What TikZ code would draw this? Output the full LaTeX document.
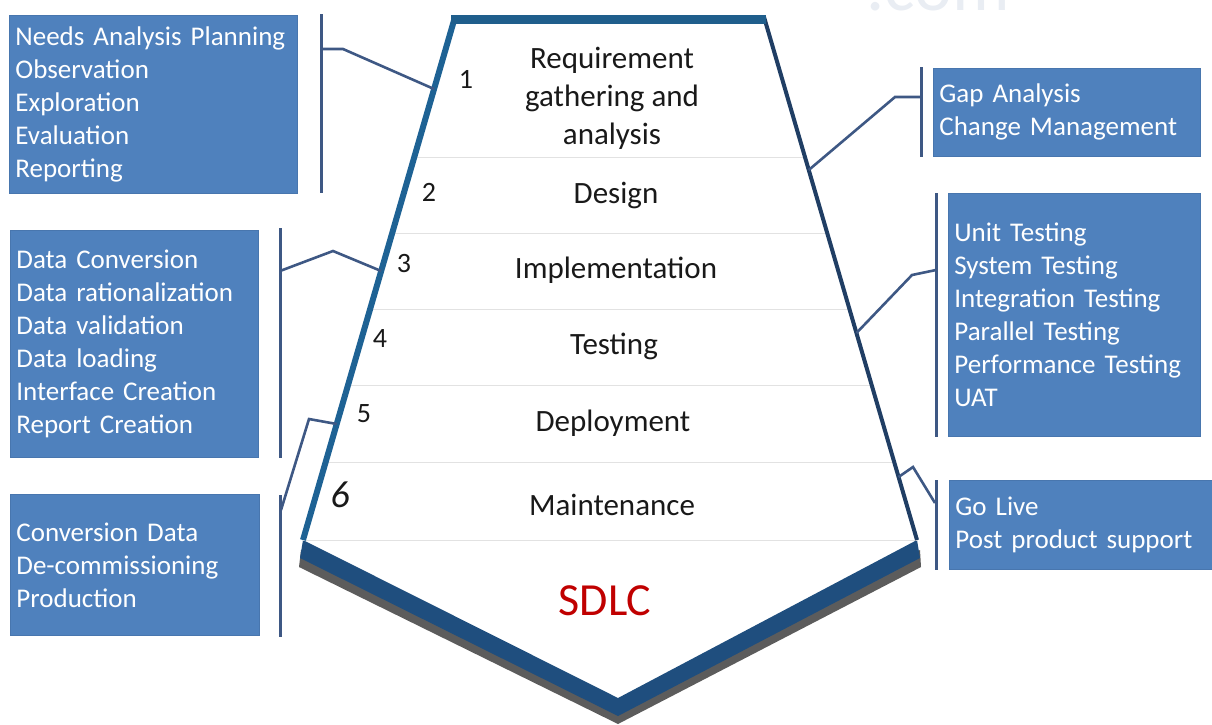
\documentclass[tikz,border=0pt]{standalone}
\usepackage{fontspec}
\setmainfont{Carlito}
\usetikzlibrary{calc}

\definecolor{boxblue}{RGB}{79,129,189}
\definecolor{boxedge}{RGB}{72,118,174}
\definecolor{linkblue}{RGB}{62,88,132}
\definecolor{frameleft}{RGB}{30,98,148}
\definecolor{frametop}{RGB}{31,94,140}
\definecolor{frameright}{RGB}{32,62,100}
\definecolor{chevronblue}{RGB}{31,78,126}
\definecolor{chevronshade}{RGB}{92,92,92}
\definecolor{rulegrey}{RGB}{226,226,226}
\definecolor{sdlcred}{RGB}{192,0,0}
\definecolor{wmgrey}{RGB}{233,237,243}

\begin{document}
\begin{tikzpicture}[x=1pt,y=-1pt,
  infobox/.style={fill=boxblue, draw=boxedge, line width=0.8pt, text=white,
    align=left, anchor=north west, inner xsep=6pt, inner ysep=0pt,
    font=\fontsize{27}{33}\selectfont},
  phase/.style={font=\fontsize{31}{38}\selectfont, text=black!90, inner sep=0pt, anchor=base},
  num/.style={font=\fontsize{28}{34}\selectfont, text=black!90, inner sep=0pt, anchor=base},
  brace/.style={draw=linkblue, line width=3pt},
  link/.style={draw=linkblue, line width=2.6pt, line join=miter},
  rowline/.style={draw=rulegrey, line width=1pt}]

\useasboundingbox (0,0) rectangle (1212,724);
\clip (0,0) rectangle (1212,724);

% faint site mark along the top edge
\node[anchor=base west, text=wmgrey, font=\fontsize{72}{72}\selectfont, inner sep=0pt] (wm) at (866,10) {.com};

% corners of the funnel
\coordinate (tl) at (455,17);
\coordinate (tr) at (764,17);
\coordinate (bl) at (303,540);
\coordinate (br) at (917,540);
\coordinate (tip) at (618,698);

% bottom chevron with its shadow
\fill[chevronshade] (301,550) -- (618,708) -- (920,550) -- (921,567) -- (618,724) -- (299,567) -- cycle;
\fill[chevronblue] (bl) -- (tip) -- (br) -- (920,558) -- (618,716) -- (300,558) -- cycle;

% row separators
\foreach \t in {0.2677,0.4130,0.5602,0.7055,0.8509,1.0}
  \draw[rowline] ($(tl)!\t!(bl)$) -- ($(tr)!\t!(br)$);

% funnel sides and top
\draw[draw=frameright, line width=4pt] (tr) -- (br);
\draw[draw=frameleft, line width=6pt] (bl) -- (tl);
\draw[draw=frametop, line width=9pt] (451,19.5) -- (766,19.5);

% phases
\node[phase, anchor=center, align=center] (req) at (612,98) {Requirement\\gathering and\\analysis};
\node[phase] (design) at (616,203) {Design};
\node[phase] (impl) at (616,278) {Implementation};
\node[phase] (test) at (614,354) {Testing};
\node[phase] (deploy) at (613,431) {Deployment};
\node[phase] (maint) at (612,515) {Maintenance};
\node[font=\fontsize{46}{50}\selectfont, text=sdlcred, anchor=base, inner sep=0pt] (sdlc) at (605,615) {SDLC};

% phase numbers
\node[num] (n1) at (466,88) {1};
\node[num] (n2) at (429,201) {2};
\node[num] (n3) at (404,272) {3};
\node[num] (n4) at (380,347) {4};
\node[num] (n5) at (364,422) {5};
\node[num, font=\fontsize{38}{40}\selectfont\itshape] (n6) at (340,507) {6};

% activity boxes
\node[infobox, minimum width=288pt, minimum height=178pt, text width=276pt] (needs) at (9,15)
  {Needs Analysis Planning\\Observation\\Exploration\\Evaluation\\Reporting};
\node[infobox, minimum width=248pt, minimum height=227pt, text width=236pt] (data) at (10,230)
  {Data Conversion\\Data rationalization\\Data validation\\Data loading\\Interface Creation\\Report Creation};
\node[infobox, minimum width=249pt, minimum height=141pt, text width=237pt] (conv) at (10,494)
  {Conversion Data\\De-commissioning\\Production};
\node[infobox, minimum width=267pt, minimum height=88pt, text width=255pt] (gap) at (933,68)
  {Gap Analysis\\Change Management};
\node[infobox, minimum width=252pt, minimum height=243pt, text width=240pt] (tests) at (948,193)
  {Unit Testing\\System Testing\\Integration Testing\\Parallel Testing\\Performance Testing\\UAT};
\node[infobox, minimum width=263pt, minimum height=89pt, text width=251pt] (golive) at (949,480)
  {Go Live\\Post product support};

% brackets beside the boxes
\coordinate (b1t) at (321,14);   \coordinate (b1b) at (321,193);
\coordinate (b2t) at (280,228);  \coordinate (b2b) at (280,458);
\coordinate (b3t) at (280,495);  \coordinate (b3b) at (280,637);
\coordinate (b4t) at (921,67);   \coordinate (b4b) at (921,157);
\coordinate (b5t) at (936,193);  \coordinate (b5b) at (936,437);
\coordinate (b6t) at (936,480);  \coordinate (b6b) at (936,570);
\foreach \a/\b in {b1t/b1b,b2t/b2b,b3t/b3b,b4t/b4b,b5t/b5b,b6t/b6b}
  \draw[brace] (\a) -- (\b);

% links from the brackets to the funnel
\coordinate (b1m) at (321,49);  \coordinate (k1) at (343,49);  \coordinate (p1) at ($(tl)!0.1377!(bl)$);
\coordinate (b2m) at (280,271); \coordinate (k2) at (333,251); \coordinate (p2) at ($(tl)!0.4857!(bl)$);
\coordinate (b3m) at (281,510); \coordinate (k3) at (309,419); \coordinate (p3) at ($(tl)!0.7782!(bl)$);
\coordinate (b4m) at (921,97);  \coordinate (k4) at (895,97);  \coordinate (p4) at ($(tr)!0.2925!(br)$);
\coordinate (b5m) at (936,270); \coordinate (k5) at (912,275); \coordinate (p5) at ($(tr)!0.6042!(br)$);
\coordinate (b6m) at (935,503); \coordinate (k6) at (913,467); \coordinate (p6) at ($(tr)!0.8795!(br)$);
\foreach \i in {1,...,6}
  \draw[link] (b\i m) -- (k\i) -- (p\i);

\end{tikzpicture}
\end{document}
